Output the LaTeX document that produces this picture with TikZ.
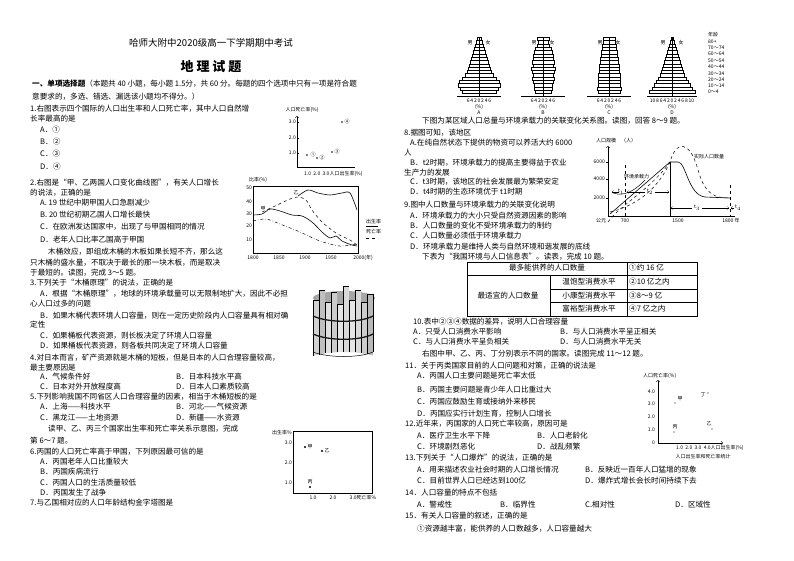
\documentclass[tikz,border=0pt]{standalone}
\usepackage{fontspec}
\setmainfont{Noto Sans CJK SC}
\begin{document}
\begin{tikzpicture}[x=1pt,y=-1pt,
 txt/.style={anchor=west,inner sep=0pt,font=\fontsize{7.6}{8}\selectfont},
 sm/.style={inner sep=0pt,font=\fontsize{5}{5}\selectfont},
 ax/.style={line width=0.5pt},
 bar/.style={draw,line width=0.35pt,fill=white},
 dot/.style={circle,fill,inner sep=0.8pt}]
\useasboundingbox[fill=white] (0,0) rectangle (794,560);
\newcommand\T[3]{\node[txt] at (#1,#2) {#3};}
% ---------- titles
\node[font=\fontsize{9.5}{10}\selectfont] (title) at (211,43) {哈师大附中2020级高一下学期期中考试};
\node[font=\bfseries\fontsize{13}{14}\selectfont] (subj) at (211,67) {地\ 理\ 试\ 题};
% ---------- left column
\T{32}{84}{\textbf{一、单项选择题}（本题共 40 小题，每小题 1.5分，共 60 分。每题的四个选项中只有一项是符合题}
\T{32}{97}{意要求的，多选、错选、漏选该小题均不得分。）}
\T{30}{109}{1.右图表示四个国际的人口出生率和人口死亡率，其中人口自然增}
\T{30}{119}{长率最高的是}
\T{40}{130}{A．①}
\T{40}{142}{B．②}
\T{40}{154}{C．③}
\T{40}{167}{D．④}
\T{30}{183}{2.右图是“甲、乙两国人口变化曲线图”，有关人口增长}
\T{30}{193}{的说法，正确的是}
\T{40}{203}{A. 19 世纪中期甲国人口急剧减少}
\T{40}{215}{B. 20 世纪初期乙国人口增长最快}
\T{40}{227}{C．在欧洲发达国家中，出现了与甲国相同的情况}
\T{40}{240}{D．老年人口比率乙国高于甲国}
\T{48}{252}{木桶效应，即组成木桶的木板如果长短不齐，那么这}
\T{30}{263}{只木桶的盛水量，不取决于最长的那一块木板，而是取决}
\T{30}{273}{于最短的。读图，完成 3～5 题。}
\T{30}{283}{3.下列关于“木桶原理”的说法，正确的是}
\T{40}{294}{A．根据“木桶原理”，地球的环境承载量可以无限制地扩大，因此不必担}
\T{30}{304}{心人口过多的问题}
\T{40}{316}{B．如果木桶代表环境人口容量，则在一定历史阶段内人口容量具有相对确}
\T{30}{325}{定性}
\T{40}{336}{C．如果桶板代表资源，则长板决定了环境人口容量}
\T{40}{346}{D．如果桶板代表资源，则各板共同决定了环境人口容量}
\T{30}{358}{4.对日本而言，矿产资源就是木桶的短板，但是日本的人口合理容量较高，}
\T{30}{368}{最主要原因是}
\T{40}{377}{A．气候条件好}\T{176}{377}{B．日本科技水平高}
\T{40}{387}{C．日本对外开放程度高}\T{176}{387}{D．日本人口素质较高}
\T{30}{397}{5.下列影响我国不同省区人口合理容量的因素，相当于木桶短板的是}
\T{40}{407}{A．上海——科技水平}\T{176}{407}{B．河北——气候资源}
\T{40}{418}{C．黑龙江——土地资源}\T{176}{418}{D．新疆——水资源}
\T{48}{429}{读甲、乙、丙三个国家出生率和死亡率关系示意图，完成}
\T{30}{441}{第 6～7 题。}
\T{30}{452}{6.丙国的人口死亡率高于甲国，下列原因最可信的是}
\T{40}{462}{A．丙国老年人口比重较大}
\T{40}{472}{B．丙国疾病流行}
\T{40}{483}{C．丙国人口的生活质量较低}
\T{40}{493}{D．丙国发生了战争}
\T{30}{503}{7.与乙国相对应的人口年龄结构金字塔图是}
% ---------- fig 1
\node[sm] (f1y) at (302,110) {人口死亡率(\%)};
\coordinate (o1) at (297,167);
\draw[ax,->] (o1) -- (297,116);
\draw[ax] (o1) -- (355,167);
\foreach \v/\y in {3.0/122,2.0/138,1.0/153}{\draw (297,\y)--(299,\y); \node[sm,anchor=east] at (296,\y) {\v};}
\node[sm,anchor=west] (f1x) at (304,174) {1.0\ \ 2.0\ \ 3.0人口出生率(\%)};
\node[dot,inner sep=0.6pt] (p1) at (307,155) {}; \node[sm] at (313,155) {①};
\node[dot,inner sep=0.6pt] (p2) at (317,158) {}; \node[sm] at (322,158) {②};
\node[dot,inner sep=0.6pt] (p3) at (332,152) {}; \node[sm] at (337,152) {③};
\node[dot,inner sep=0.6pt] (p4) at (342,122) {}; \node[sm] at (347,122) {④};
% ---------- fig 2
\node[sm] (f2y) at (258,180) {比率(\%)};
\draw[ax] (253,186) rectangle (358,253);
\foreach \v/\y in {50/188,40/202,30/214,20/226,10/240}{\node[sm,anchor=east] at (252,\y) {\v};}
\foreach \v/\x in {1800/253,1850/279,1900/305,1950/331}{\node[sm] at (\x,258) {\v};}
\node[sm] at (363,258) {2000(年)};
\draw[line width=0.6pt] plot[smooth] coordinates {(253,215)(262,214)(270,209)(280,211)(292,215)(302,216)(312,222)(322,232)(330,238)(336,236)(342,241)(352,245)(357,246)};
\draw[line width=0.6pt] plot[smooth] coordinates {(298,196)(308,190)(318,193)(330,195)(342,193)(350,193)(357,210)};
\draw[line width=0.5pt,dashed] plot[smooth] coordinates {(262,212)(275,206)(290,199)(298,197)(306,200)(312,210)(322,222)(336,233)(350,240)(357,245)};
\draw[line width=0.5pt,dash dot] plot[smooth] coordinates {(253,221)(266,219)(280,224)(300,232)(320,241)(340,246)(357,244)};
\node[sm] (jia2) at (263,209) {甲};
\node[sm] (yi2) at (296,193) {乙};
\node[sm,anchor=west] (lg1) at (366,222) {出生率};
\node[sm,anchor=west] (lg2) at (366,232) {死亡率};
\draw (366,226)--(378,226); \draw[dashed] (366,238)--(378,238);
% ---------- bucket
\begin{scope}
\fill[gray!70] (344,298) ellipse[x radius=31,y radius=7];
\foreach \x/\t/\s in {313/300/35,319/290/50,325/302/25,331/292/40,337/304/20,343/286/30,349/300/20,355/290/30,361/302/40,367/294/55}{
 \fill[gray!\s] (\x,\t) -- (\x,{352+0.004*(\x-344)*(\x-344)}) -- (\x+6,{352+0.004*(\x-338)*(\x-338)}) -- (\x+6,\t) -- cycle;
 \draw[line width=0.3pt] (\x,\t) -- (\x,{352+0.004*(\x-344)*(\x-344)}) (\x,\t)--(\x+6,\t);}
\draw[line width=0.3pt] (373,294)--(373,352);
\foreach \y in {316,334}{\draw[line width=1.3pt,gray!20!black] (313,\y) .. controls (328,\y+7) and (360,\y+7) .. (373,\y);}
\draw[line width=0.5pt] (313,352) .. controls (328,358) and (360,358) .. (373,352);
\end{scope}
% ---------- fig 4
\node[sm] (f4y) at (282,433) {出生率\%};
\draw[ax] (293,431) rectangle (372,493);
\foreach \v/\y in {3.0/443,2.0/463,1.0/483}{\node[sm,anchor=east] at (292,\y) {\v};}
\node[sm] at (313,498) {1.0}; \node[sm] at (333,498) {2.0}; \node[sm] at (363,498) {3.0死亡率\%};
\node[dot] (jia4) at (305,447) {}; \node[sm] at (310,447) {甲};
\node[dot] (yi4) at (322,451) {}; \node[sm] at (327,451) {乙};
\node[dot] (bing4) at (310,487) {}; \node[sm] at (310,482) {丙};
% ---------- pyramids
\foreach \cx/\lab/\ws in {479/A/{2,3,4,5,6,7,8,9,10,11,12,14,17,20,21,19,17},
 543/B/{6,5,6,8,9,10,10,11,10,12,11,10,11,10,9,9,8},
 609/C/{6,6,7,7,8,8,9,9,10,10,10,11,11,11,11,12,11},
 672/D/{1,2,3,4,5,6,7,8,9,10,11,12,14,16,18,20,23}}{
 \foreach \w [count=\i] in \ws {\draw[bar] (\cx-\w,34+\i*3.3) rectangle (\cx+\w,37.3+\i*3.3);}
 \draw[line width=0.35pt] (\cx,37) -- (\cx,96);
 \node[sm] at (\cx-9,43) {男}; \node[sm] at (\cx+9,43) {女};
 \node[sm] at (\cx,113) {\lab};
 \node[sm] at (\cx,107) {(\%)};
}
\foreach \cx in {479,543,609}{\draw (\cx-22,96)--(\cx+22,96); \node[sm] at (\cx,101) {6\,4\,2\,0\,2\,4\,6};}
\draw (647,96)--(697,96); \node[sm] at (672,101) {10\,8\,6\,4\,2\,0\,2\,4\,6\,8\,10};
\node[sm,anchor=west] (age) at (708,35) {年龄};
\foreach \a/\y in {80+/42,70～74/48,60～64/54,50～54/61,40～44/67,30～34/74,20～24/80,10～14/86,0～4/92}{\node[sm,anchor=west] at (708,\y) {\a};}
% ---------- right column text
\T{422}{121}{下图为某区域人口总量与环境承载力的关联变化关系图。读图，回答 8～9 题。}
\T{404}{133}{8.据图可知，该地区}
\T{410}{143}{A.在纯自然状态下提供的物资可以养活大约 6000}
\T{404}{153}{人}
\T{410}{163}{B．t2时期，环境承载力的提高主要得益于农业}
\T{404}{173}{生产力的发展}
\T{410}{182}{C．t3时期，该地区的社会发展最为繁荣安定}
\T{410}{192}{D．t4时期的生态环境优于 t1时期}
\T{404}{205}{9.图中人口数量与环境承载力的关联变化说明}
\T{410}{216}{A．环境承载力的大小只受自然资源因素的影响}
\T{410}{226}{B．人口数量的变化不受环境承载力的制约}
\T{410}{236}{C．人口数量必须低于环境承载力}
\T{410}{247}{D．环境承载力是维持人类与自然环境和谐发展的底线}
\T{422}{257}{下表为“我国环境与人口信息表”。读表，完成 10 题。}
% table
\draw[line width=0.5pt] (467,262) rectangle (697,316);
\draw (627,262)--(627,316); \draw (550,275)--(550,316);
\draw (467,275)--(697,275); \draw (550,289)--(697,289); \draw (550,302)--(697,302);
\node[txt,anchor=center] (c1) at (547,268) {最多能供养的人口数量};
\node[txt] (c2) at (629,268) {①约 16 亿};
\node[txt,anchor=center] (c3) at (508,296) {最适宜的人口数量};
\node[txt,anchor=center] (c4) at (589,282) {温饱型消费水平};
\node[txt,anchor=center] (c5) at (589,296) {小康型消费水平};
\node[txt,anchor=center] (c6) at (589,309) {富裕型消费水平};
\node[txt] (c7) at (629,282) {②10 亿之内};
\node[txt] (c8) at (629,296) {③8～9 亿};
\node[txt] (c9) at (629,309) {④7 亿之内};
\T{413}{322}{10.表中②③④数据的差异，说明人口合理容量}
\T{413}{332}{A．只受人口消费水平影响}\T{560}{332}{B．与人口消费水平呈正相关}
\T{413}{342}{C．与人口消费水平呈负相关}\T{560}{342}{D．与人口消费水平无关}
\T{422}{354}{右图中甲、乙、丙、丁分别表示不同的国家。读图完成 11～12 题。}
\T{405}{366}{11．关于丙类国家目前的人口问题和对策，正确的说法是}
\T{417}{376}{A．丙国人口主要问题是死亡率太低}
\T{417}{390}{B．丙国主要问题是青少年人口比重过大}
\T{417}{402}{C．丙国应鼓励生育或接纳外来移民}
\T{417}{414}{D．丙国应实行计划生育，控制人口增长}
\T{405}{424}{12.近年来，丙国家的人口死亡率较高，原因可是}
\T{417}{436}{A．医疗卫生水平下降}\T{537}{436}{B．人口老龄化}
\T{417}{447}{C．环境剧烈恶化}\T{537}{447}{D．战乱频繁}
\T{405}{458}{13.下列关于“人口爆炸”的说法，正确的是}
\T{417}{470}{A．用来描述农业社会时期的人口增长情况}\T{585}{470}{B．反映近一百年人口猛增的现象}
\T{417}{481}{C．目前世界人口已经达到100亿}\T{585}{481}{D．爆炸式增长会长时间持续下去}
\T{405}{493}{14．人口容量的特点不包括}
\T{417}{505}{A．警戒性}\T{500}{505}{B．临界性}\T{585}{505}{C.相对性}\T{675}{505}{D．区域性}
\T{405}{516}{15．有关人口容量的叙述，正确的是}
\T{417}{529}{①资源越丰富，能供养的人口数越多，人口容量越大}
% ---------- fig 8
\node[sm,anchor=west] (f8y) at (596,141) {人口规模\quad（人）};
\coordinate (o8) at (608,216);
\draw[ax,->] (o8) -- (608,146);
\draw[ax] (o8) -- (735,216);
\foreach \v/\y in {6000/162,4000/179,2000/198}{\draw (606,\y)--(608,\y); \node[sm,anchor=east] at (605,\y) {\v};}
\node[sm] at (601,221) {公元}; \node[sm] at (625,221) {700}; \node[sm] at (678,221) {1500}; \node[sm] at (731,221) {1800 年};
\draw[line width=0.6pt] (610,214) -- (670,162) -- (678,162) .. controls (686,162) and (688,195) .. (705,197) -- (730,198);
\draw[line width=0.5pt,dashed] (610,212) .. controls (640,205) and (660,185) .. (670,162) .. controls (676,140) and (690,140) .. (698,170) .. controls (705,195) and (715,198) .. (730,198);
\draw[line width=0.5pt,dashed] (608,222) .. controls (620,205) and (650,190) .. (670,162);
\draw[line width=0.5pt] (612,192) .. controls (618,196) and (630,196) .. (645,180);
\draw[dashed,line width=0.4pt] (625,165)--(625,216);
\draw[line width=0.4pt] (670,162)--(670,216);
\draw[dashed,line width=0.4pt] (730,185)--(730,216);
\node[sm,anchor=west] (hj) at (624,177) {环境承载力};
\node[sm,anchor=west] (sj) at (694,157) {实际人口数量};
\draw[->,line width=0.3pt] (619,192)--(612,192); \node[sm] (t1) at (621,192) {t$_1$};
\draw[->,line width=0.3pt] (645,192)--(627,192); \draw[->,line width=0.3pt] (655,192)--(669,192); \node[sm] (t2) at (650,192) {t$_2$};
\draw[<-,line width=0.3pt] (671,208)--(692,208); \draw[->,line width=0.3pt] (702,208)--(729,208); \node[sm] (t3) at (697,208) {t$_3$};
\draw[<-,line width=0.3pt] (731,208)--(734,208); \node[sm] (t4) at (738,208) {t$_4$};
% ---------- fig 11
\node[sm,anchor=west] (f11y) at (643,376) {人口死亡率(\%)};
\coordinate (o11) at (658,443);
\draw[ax,->] (o11) -- (658,380);
\draw[ax,->] (o11) -- (723,443);
\foreach \v/\y in {4.0/392,3.0/404,2.0/417,1.0/430,0/443}{\node[sm,anchor=east] at (655,\y) {\v};}
\node[sm,anchor=west] (f11x) at (676,448) {1.0\ \ 2.0\ \ 3.0\ \ 4.0人口出生率(\%)};
\node[sm] (cap11) at (703,457) {人口出生率和死亡率统计};
\node[dot,inner sep=0.5pt] (jia11) at (675,403) {}; \node[sm] at (680,399) {甲};
\node[dot,inner sep=0.5pt] (ding11) at (708,393) {}; \node[sm] at (703,395) {丁};
\node[dot,inner sep=0.5pt] (bing11) at (674,432) {}; \node[sm] at (675,427) {丙};
\node[dot,inner sep=0.5pt] (yi11) at (712,429) {}; \node[sm] at (709,424) {乙};
\end{tikzpicture}
\end{document}
